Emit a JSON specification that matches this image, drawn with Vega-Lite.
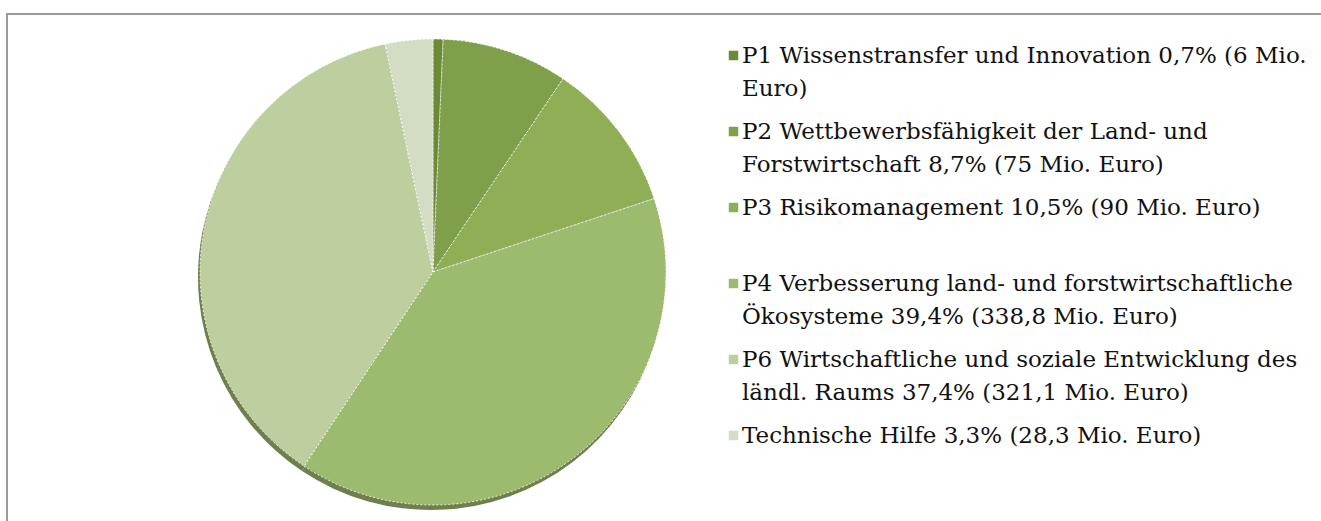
{
  "$schema": "https://vega.github.io/schema/vega-lite/v6.json",
  "width": 1340,
  "height": 516,
  "padding": {"left": 6, "top": 13, "right": 0, "bottom": 0},
  "autosize": {"type": "pad"},
  "background": "white",
  "config": {"view": {"stroke": null}, "style": {"guide-label": {"lineHeight": 33}}},
  "data": {
    "values": [
      {"Priorität": "P1 Wissenstransfer und Innovation 0,7% (6 Mio.|Euro)", "Mio": 6, "ord": 1},
      {"Priorität": "P2 Wettbewerbsfähigkeit der Land- und|Forstwirtschaft 8,7% (75 Mio. Euro)", "Mio": 75, "ord": 2},
      {"Priorität": "P3 Risikomanagement 10,5% (90 Mio. Euro)| ", "Mio": 90, "ord": 3},
      {"Priorität": "P4 Verbesserung land- und forstwirtschaftliche|Ökosysteme 39,4% (338,8 Mio. Euro)", "Mio": 338.8, "ord": 4},
      {"Priorität": "P6 Wirtschaftliche und soziale Entwicklung des|ländl. Raums 37,4%  (321,1 Mio. Euro)", "Mio": 321.1, "ord": 5},
      {"Priorität": "Technische Hilfe 3,3% (28,3 Mio. Euro)", "Mio": 28.3, "ord": 6}
    ]
  },
  "layer": [
    {
      "data": {"values": [{}]},
      "mark": {"type": "rect", "fill": "transparent", "stroke": "#9a9a9a", "strokeWidth": 2},
      "encoding": {}
    },
    {
      "mark": {"type": "arc", "radius": 233, "color": "#56692f", "yOffset": 5, "xOffset": -2, "opacity": 0.85},
      "encoding": {
        "theta": {"field": "Mio", "type": "quantitative", "stack": true},
        "order": {"field": "ord", "type": "quantitative"},
        "x": {"datum": 0.3179, "type": "quantitative", "scale": {"domain": [0, 1], "nice": false, "zero": false}, "axis": null}
      }
    },
    {
      "mark": {"type": "arc", "radius": 233, "stroke": "white", "strokeWidth": 1, "strokeDash": [2, 2], "strokeOpacity": 0.85},
      "encoding": {
        "theta": {"field": "Mio", "type": "quantitative", "stack": true},
        "order": {"field": "ord", "type": "quantitative"},
        "x": {"datum": 0.3179, "type": "quantitative", "scale": {"domain": [0, 1], "nice": false, "zero": false}, "axis": null},
        "color": {
          "field": "Priorität",
          "type": "nominal",
          "scale": {
            "domain": [
              "P1 Wissenstransfer und Innovation 0,7% (6 Mio.|Euro)",
              "P2 Wettbewerbsfähigkeit der Land- und|Forstwirtschaft 8,7% (75 Mio. Euro)",
              "P3 Risikomanagement 10,5% (90 Mio. Euro)| ",
              "P4 Verbesserung land- und forstwirtschaftliche|Ökosysteme 39,4% (338,8 Mio. Euro)",
              "P6 Wirtschaftliche und soziale Entwicklung des|ländl. Raums 37,4%  (321,1 Mio. Euro)",
              "Technische Hilfe 3,3% (28,3 Mio. Euro)"
            ],
            "range": ["#6b8a36", "#7f9f4a", "#8fae56", "#9dbb6e", "#bdcf9f", "#d2ddc4"]
          },
          "legend": {
            "orient": "none",
            "legendX": 715,
            "legendY": 30,
            "title": null,
            "padding": 0,
            "labelExpr": "split(datum.label, '|')",
            "symbolType": "square",
            "symbolSize": 90,
            "symbolStrokeWidth": 0,
            "labelFont": "DejaVu Serif",
            "labelFontSize": 23,
            "labelLimit": 0,
            "labelColor": "#111111",
            "labelBaseline": "middle",
            "labelOffset": -3,
            "rowPadding": 19
          }
        }
      }
    }
  ]
}
